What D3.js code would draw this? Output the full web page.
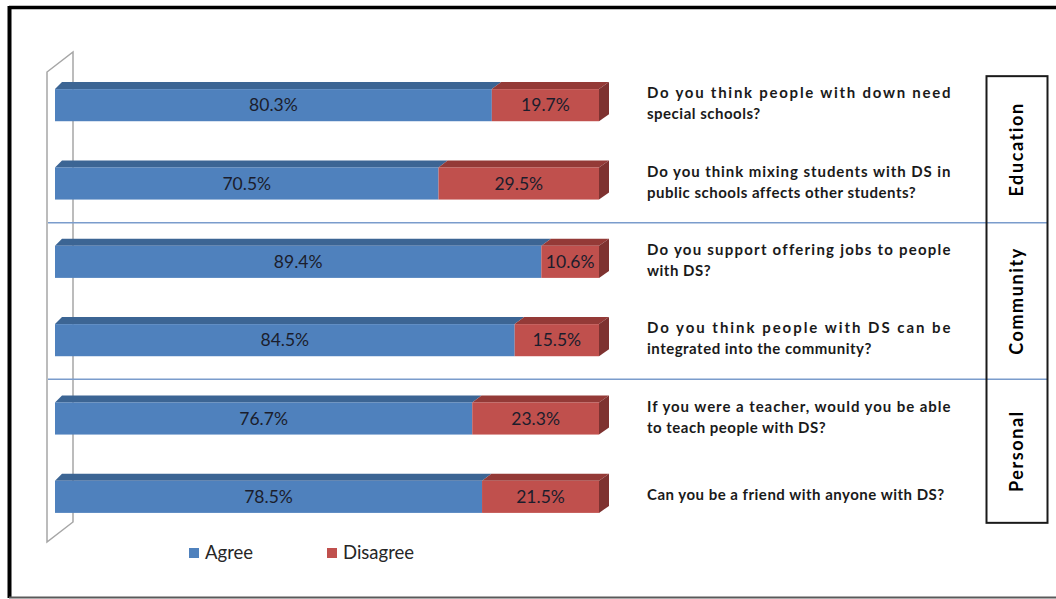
<html>
<head>
<meta charset="utf-8">
<script src="https://d3js.org/d3.v7.min.js"></script>
<style>
  body { margin: 0; background: #fff; }
  svg { display: block; }
</style>
</head>
<body>
<div id="chart"></div>
<script>
// data
var groups = ["Education", "Community", "Personal"];
var questionGroup = [0, 0, 1, 1, 2, 2];
var questions = [
  ["Do you think people with down need", "special schools?"],
  ["Do you think mixing students with DS in", "public schools affects other students?"],
  ["Do you support offering jobs to people", "with DS?"],
  ["Do you think people with DS can be", "integrated into the community?"],
  ["If you were a teacher, would you be able", "to teach people with DS?"],
  ["Can you be a friend with anyone with DS?"]
];
var agree    = [80.3, 70.5, 89.4, 84.5, 76.7, 78.5];
var disagree = [19.7, 29.5, 10.6, 15.5, 23.3, 21.5];
var seriesNames = ["Agree", "Disagree"];

var W = 1056, H = 599;
var front = ["#4f81bd", "#c0504d"];
var topc  = ["#3c6594", "#943a37"];
var sidec = ["#3a5f8a", "#7e3230"];

var svg = d3.select("#chart").append("svg")
  .attr("width", W).attr("height", H);

// frame
svg.append("line").attr("x1", 9).attr("x2", W).attr("y1", 7.5).attr("y2", 7.5)
  .attr("stroke", "#000").attr("stroke-width", 3.5);
svg.append("line").attr("x1", 9.5).attr("x2", 9.5).attr("y1", 6).attr("y2", 598)
  .attr("stroke", "#000").attr("stroke-width", 4);
svg.append("line").attr("x1", 9).attr("x2", W).attr("y1", 597.5).attr("y2", 597.5)
  .attr("stroke", "#5a5a5a").attr("stroke-width", 2);

var idx = d3.range(questions.length);
var x = d3.scaleLinear().domain([0, 100]).range([55, 599]);
var y = d3.scaleBand().domain(idx).range([66, 536])
  .paddingInner(0.59).paddingOuter(0.295);
var bh = y.bandwidth();
var depthY = 7;
function depthX(v) { return 7 + 3 * v / 100; }
function cy(i) { return y(i) + bh / 2; }

// back wall (3d)
var wTop = y.range()[0] + 6, wBot = y.range()[1] + 6;
var wall = svg.append("g").attr("fill", "none").attr("stroke", "#a6a6a6").attr("stroke-width", 1.5);
wall.append("path").attr("d",
  "M47," + wBot + "L47," + wTop + "L73," + (wTop - 20) + "L73," + (wBot - 20) + "Z");

// group separators
var seps = [];
for (var i = 1; i < idx.length; i++) {
  if (questionGroup[i] !== questionGroup[i - 1]) seps.push((cy(i) + cy(i - 1)) / 2);
}
svg.selectAll(".sep").data(seps).enter().append("line")
  .attr("x1", 48).attr("x2", 1048)
  .attr("y1", function(d) { return d; }).attr("y2", function(d) { return d; })
  .attr("stroke", "#7a9ccc").attr("stroke-width", 1.5);

// bars
var bars = svg.selectAll(".bar").data(idx).enter().append("g");
bars.each(function(i) {
  var g = d3.select(this);
  var segs = [[0, agree[i]], [agree[i], agree[i] + disagree[i]]];
  var y0 = y(i), y1 = y(i) + bh;
  segs.forEach(function(s, k) {
    var xa = x(s[0]), xb = x(s[1]);
    g.append("path")
      .attr("d", "M" + xa + "," + y0 + "L" + xb + "," + y0 +
        "L" + (xb + depthX(s[1])) + "," + (y0 - depthY) +
        "L" + (xa + depthX(s[0])) + "," + (y0 - depthY) + "Z")
      .attr("fill", topc[k]);
    g.append("rect").attr("x", xa).attr("y", y0)
      .attr("width", xb - xa).attr("height", bh).attr("fill", front[k]);
    if (k === segs.length - 1) {
      var dx = depthX(s[1]);
      g.append("path")
        .attr("d", "M" + xb + "," + y0 + "L" + (xb + dx) + "," + (y0 - depthY) +
          "L" + (xb + dx) + "," + (y1 - depthY) + "L" + xb + "," + y1 + "Z")
        .attr("fill", sidec[k]);
    }
    g.append("text")
      .attr("x", (xa + xb) / 2).attr("y", cy(i) + 6)
      .attr("text-anchor", "middle")
      .attr("font-family", "Lato, 'Open Sans', sans-serif")
      .attr("font-size", "17.5px").attr("fill", "#1b1d2c")
      .text((k === 0 ? agree[i] : disagree[i]).toFixed(1) + "%");
  });
});

// question texts (justified like the original)
var qx = 647, qw = 304, lineGap = 21;
var qt = svg.selectAll(".q").data(idx).enter().append("g");
qt.each(function(i) {
  var lines = questions[i];
  var n = lines.length;
  lines.forEach(function(line, j) {
    var t = d3.select(this).append("text")
      .attr("x", qx)
      .attr("y", cy(i) + 3.5 + (j - (n - 1) / 2) * lineGap)
      .attr("font-family", "Lato, 'Open Sans', sans-serif")
      .attr("font-weight", "bold").attr("font-size", "15px")
      .attr("letter-spacing", "0.5px")
      .attr("fill", "#1a1a1a")
      .text(line);
    if (j < n - 1) t.attr("textLength", qw).attr("lengthAdjust", "spacing");
  }, this);
});

// group box
var boxTop = cy(0) - 29, boxBot = cy(idx.length - 1) + 26;
svg.append("rect").attr("x", 986.5).attr("y", boxTop)
  .attr("width", 61).attr("height", boxBot - boxTop)
  .attr("fill", "none").attr("stroke", "#1a1a1a").attr("stroke-width", 2);

var bounds = [boxTop].concat(seps).concat([boxBot]);
groups.forEach(function(name, k) {
  var my = (bounds[k] + bounds[k + 1]) / 2;
  svg.append("text")
    .attr("transform", "translate(1023," + my + ") rotate(-90)")
    .attr("text-anchor", "middle")
    .attr("font-family", "Lato, 'Open Sans', sans-serif")
    .attr("font-weight", "bold").attr("font-size", "18px")
    .attr("letter-spacing", "1.6px")
    .attr("fill", "#000")
    .text(name);
});

// legend
var lx = [189, 327];
seriesNames.forEach(function(name, k) {
  svg.append("rect").attr("x", lx[k]).attr("y", 548).attr("width", 10).attr("height", 10)
    .attr("fill", front[k]);
  svg.append("text").attr("x", lx[k] + 16).attr("y", 558.5)
    .attr("font-family", "Lato, 'Open Sans', sans-serif")
    .attr("font-size", "18.5px").attr("fill", "#262626")
    .text(name);
});
</script>
</body>
</html>
